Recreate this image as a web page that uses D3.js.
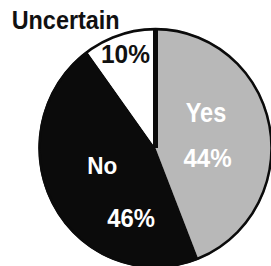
<!DOCTYPE html>
<html>
<head>
<meta charset="utf-8">
<script src="https://cdn.jsdelivr.net/npm/d3@7"></script>
<style>
  html, body { margin: 0; padding: 0; background: #fff; }
  svg { display: block; }
</style>
</head>
<body>
<svg id="chart" width="271" height="266"></svg>
<script>
// ---- data ----
const categories = ["Yes", "No", "Uncertain"];
const values = [44, 46, 10];
const percentLabels = ["44%", "46%", "10%"];

// ---- styles / layout ----
const fills = { "Yes": "#b8b8b8", "No": "#0b0b0b", "Uncertain": "#ffffff" };
const textColor = { "Yes": "#ffffff", "No": "#ffffff", "Uncertain": "#111111" };
const cx = 155.5, cy = 148, r = 117, yStretch = 1.025;
const font = "'Liberation Sans', Arial, Helvetica, sans-serif";
// label placement (layout, not data)
const nameLayout = {
  "Yes": { x: 206, y: 121.7, size: 27, sx: 0.87, anchor: "middle" },
  "No": { x: 102.3, y: 174, size: 23, sx: 0.98, anchor: "middle" },
  "Uncertain": { x: 11.7, y: 29.3, size: 26, sx: 0.9, anchor: "start" }
};
const pctLayout = {
  "Yes": { x: 207.5, y: 167, size: 26.5, sx: 0.91 },
  "No": { x: 131, y: 226.5, size: 26.5, sx: 0.9 },
  "Uncertain": { x: 125.5, y: 63.3, size: 25.5, sx: 0.96 }
};

const svg = d3.select("#chart");
const data = categories.map((c, i) => ({ cat: c, value: values[i], pct: percentLabels[i] }));

const pie = d3.pie().sort(null).value(d => d.value).startAngle(0).endAngle(2 * Math.PI);
const arc = d3.arc().innerRadius(0).outerRadius(r);

const g = svg.append("g")
  .attr("transform", `translate(${cx},${cy}) scale(1,${yStretch})`);

const arcs = pie(data);
g.selectAll("path.slice")
  .data(arcs)
  .join("path")
  .attr("class", "slice")
  .attr("d", arc)
  .attr("fill", d => fills[d.data.cat]);

// divider between Uncertain and Yes (thick rule at the pie's start angle)
const a0 = arcs[0].startAngle;
g.append("line")
  .attr("x1", 0).attr("y1", 0)
  .attr("x2", r * Math.sin(a0)).attr("y2", -r * Math.cos(a0))
  .attr("stroke", "#0b0b0b").attr("stroke-width", 5);

// outline
g.append("circle")
  .attr("r", r - 1)
  .attr("fill", "none")
  .attr("stroke", "#0b0b0b")
  .attr("stroke-width", 2.5);

// category names
svg.selectAll("text.name")
  .data(data)
  .join("text")
  .attr("class", "name")
  .attr("transform", d => `translate(${nameLayout[d.cat].x},${nameLayout[d.cat].y}) scale(${nameLayout[d.cat].sx},1)`)
  .attr("text-anchor", d => nameLayout[d.cat].anchor)
  .attr("font-family", font)
  .attr("font-weight", "bold")
  .attr("font-size", d => nameLayout[d.cat].size)
  .attr("fill", d => d.cat === "Uncertain" ? "#111111" : textColor[d.cat])
  .text(d => d.cat);

// percentages
svg.selectAll("text.pct")
  .data(data)
  .join("text")
  .attr("class", "pct")
  .attr("transform", d => `translate(${pctLayout[d.cat].x},${pctLayout[d.cat].y}) scale(${pctLayout[d.cat].sx},1)`)
  .attr("text-anchor", "middle")
  .attr("font-family", font)
  .attr("font-weight", "bold")
  .attr("font-size", d => pctLayout[d.cat].size)
  .attr("fill", d => textColor[d.cat])
  .text(d => d.pct);
</script>
</body>
</html>
